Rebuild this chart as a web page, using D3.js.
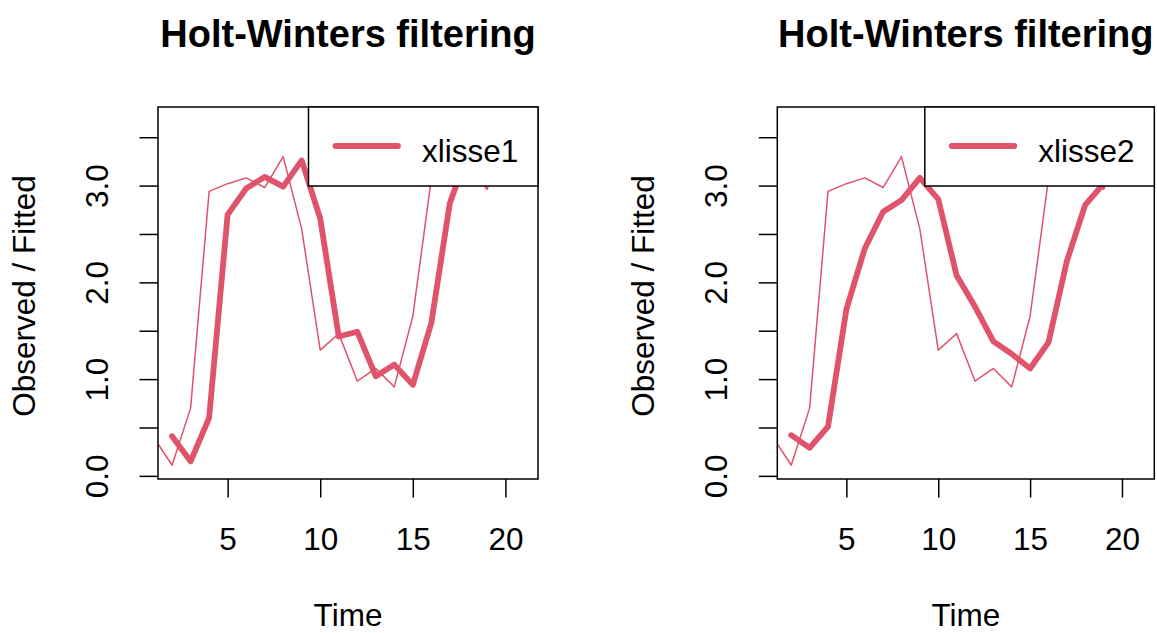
<!DOCTYPE html>
<html>
<head>
<meta charset="utf-8">
<script src="https://cdn.jsdelivr.net/npm/d3@7"></script>
<style>
  body { margin: 0; background: #fff; }
  text { font-family: "Liberation Sans", Arial, Helvetica, sans-serif; fill: #000; }
</style>
</head>
<body>
<svg id="chart" width="1157" height="633"></svg>
<script>
// Observed series (time 1..21) and the two Holt-Winters fitted levels (time 2..21)
const time = [1, 2, 3, 4, 5, 6, 7, 8, 9, 10, 11, 12, 13, 14, 15, 16, 17, 18, 19, 20, 21];
const observed = [0.40, 0.11, 0.70, 2.94, 3.02, 3.08, 2.98, 3.30, 2.55, 1.30, 1.47,
                  0.98, 1.11, 0.92, 1.65, 3.07, 3.46, 3.26, 2.96, 3.40, 3.67];
const fittedTime = [2, 3, 4, 5, 6, 7, 8, 9, 10, 11, 12, 13, 14, 15, 16, 17, 18, 19, 20, 21];
const xlisse1 = [0.41, 0.15, 0.60, 2.70, 2.97, 3.09, 2.99, 3.26, 2.66, 1.44,
                 1.49, 1.03, 1.15, 0.94, 1.58, 2.82, 3.35, 3.28, 3.10, 3.50];
const xlisse2 = [0.42, 0.29, 0.51, 1.72, 2.35, 2.73, 2.85, 3.08, 2.86, 2.07,
                 1.75, 1.39, 1.26, 1.11, 1.38, 2.22, 2.80, 3.02, 3.06, 3.30];

const xTicks = [5, 10, 15, 20];
const yTicks = [0, 0.5, 1, 1.5, 2, 2.5, 3, 3.5];
const yLabelValues = [0, 1, 2, 3];
const yLabelTexts = ["0.0", "1.0", "2.0", "3.0"];

const titleText = "Holt-Winters filtering";
const xTitle = "Time";
const yTitle = "Observed / Fitted";

const panels = [
  { name: "xlisse1", fitted: xlisse1, left: 158, right: 538 },
  { name: "xlisse2", fitted: xlisse2, left: 777.3, right: 1154.3 }
];

const RED = "#DF536B";
const BASE = 31.5;          // base font size
const TOP = 107, BOTTOM = 479;
const TICK = 18.5;

const svg = d3.select("#chart");

// R-style 4% axis expansion
function padded(ext) {
  const r = ext[1] - ext[0];
  return [ext[0] - 0.04 * r, ext[1] + 0.04 * r];
}

panels.forEach((p, i) => {
  const g = svg.append("g");
  const x = d3.scaleLinear().domain(padded(d3.extent(fittedTime))).range([p.left, p.right]);
  const y = d3.scaleLinear()
    .domain(padded(d3.extent(observed.concat(p.fitted))))
    .range([BOTTOM, TOP]);

  const clipId = "clip" + i;
  g.append("clipPath").attr("id", clipId)
    .append("rect")
    .attr("x", p.left).attr("y", TOP)
    .attr("width", p.right - p.left).attr("height", BOTTOM - TOP);

  const line = d3.line().x(d => x(d[0])).y(d => y(d[1]));

  const plot = g.append("g").attr("clip-path", `url(#${clipId})`);
  plot.append("path")
    .datum(time.map((t, k) => [t, observed[k]]))
    .attr("d", line)
    .attr("fill", "none").attr("stroke", RED).attr("stroke-width", 1.5)
    .attr("stroke-linejoin", "round").attr("stroke-linecap", "round");
  plot.append("path")
    .datum(fittedTime.map((t, k) => [t, p.fitted[k]]))
    .attr("d", line)
    .attr("fill", "none").attr("stroke", RED).attr("stroke-width", 5.8)
    .attr("stroke-linejoin", "round").attr("stroke-linecap", "round");

  // bottom axis
  const xa = g.append("g").attr("transform", `translate(0,${BOTTOM})`)
    .call(d3.axisBottom(x).tickValues(xTicks).tickSize(TICK).tickSizeOuter(0).tickFormat(d3.format("d")));
  xa.select(".domain").remove();
  xa.selectAll(".tick line").attr("stroke", "#000").attr("stroke-width", 1.5);
  xa.selectAll(".tick text")
    .attr("y", 71).attr("dy", null)
    .attr("font-size", BASE).attr("fill", "#000");

  // left axis
  const ya = g.append("g").attr("transform", `translate(${p.left},0)`)
    .call(d3.axisLeft(y).tickValues(yTicks).tickSize(TICK).tickSizeOuter(0)
      .tickFormat(d => {
        const k = yLabelValues.indexOf(d);
        return k >= 0 ? yLabelTexts[k] : "";
      }));
  ya.select(".domain").remove();
  ya.selectAll(".tick line").attr("stroke", "#000").attr("stroke-width", 1.5);
  ya.selectAll(".tick text")
    .attr("x", null).attr("dy", null)
    .attr("text-anchor", "middle")
    .attr("transform", "translate(-50,0) rotate(-90)")
    .attr("font-size", BASE).attr("fill", "#000");

  // plot box
  g.append("rect")
    .attr("x", p.left).attr("y", TOP)
    .attr("width", p.right - p.left).attr("height", BOTTOM - TOP)
    .attr("fill", "none").attr("stroke", "#000").attr("stroke-width", 1.5);

  // legend (top right)
  const lw = 229.5, lh = 79;
  const lx = p.right - lw;
  const leg = g.append("g");
  leg.append("rect")
    .attr("x", lx).attr("y", TOP).attr("width", lw).attr("height", lh)
    .attr("fill", "#fff").attr("stroke", "#000").attr("stroke-width", 1.5);
  leg.append("line")
    .attr("x1", lx + 27).attr("x2", lx + 89.5)
    .attr("y1", TOP + 39).attr("y2", TOP + 39)
    .attr("stroke", RED).attr("stroke-width", 5.8).attr("stroke-linecap", "round");
  leg.append("text")
    .attr("x", lx + 113.5).attr("y", TOP + 54.5)
    .attr("font-size", BASE)
    .text(p.name);

  const cx = (p.left + p.right) / 2;
  // title
  g.append("text")
    .attr("x", cx).attr("y", 47)
    .attr("text-anchor", "middle")
    .attr("font-size", 38).attr("font-weight", "bold")
    .text(titleText);
  // axis titles
  g.append("text")
    .attr("x", cx).attr("y", 626)
    .attr("text-anchor", "middle")
    .attr("font-size", BASE)
    .text(xTitle);
  g.append("text")
    .attr("transform", `translate(${p.left - 123},${(TOP + BOTTOM) / 2 + 3}) rotate(-90)`)
    .attr("text-anchor", "middle")
    .attr("font-size", BASE)
    .text(yTitle);
});
</script>
</body>
</html>
